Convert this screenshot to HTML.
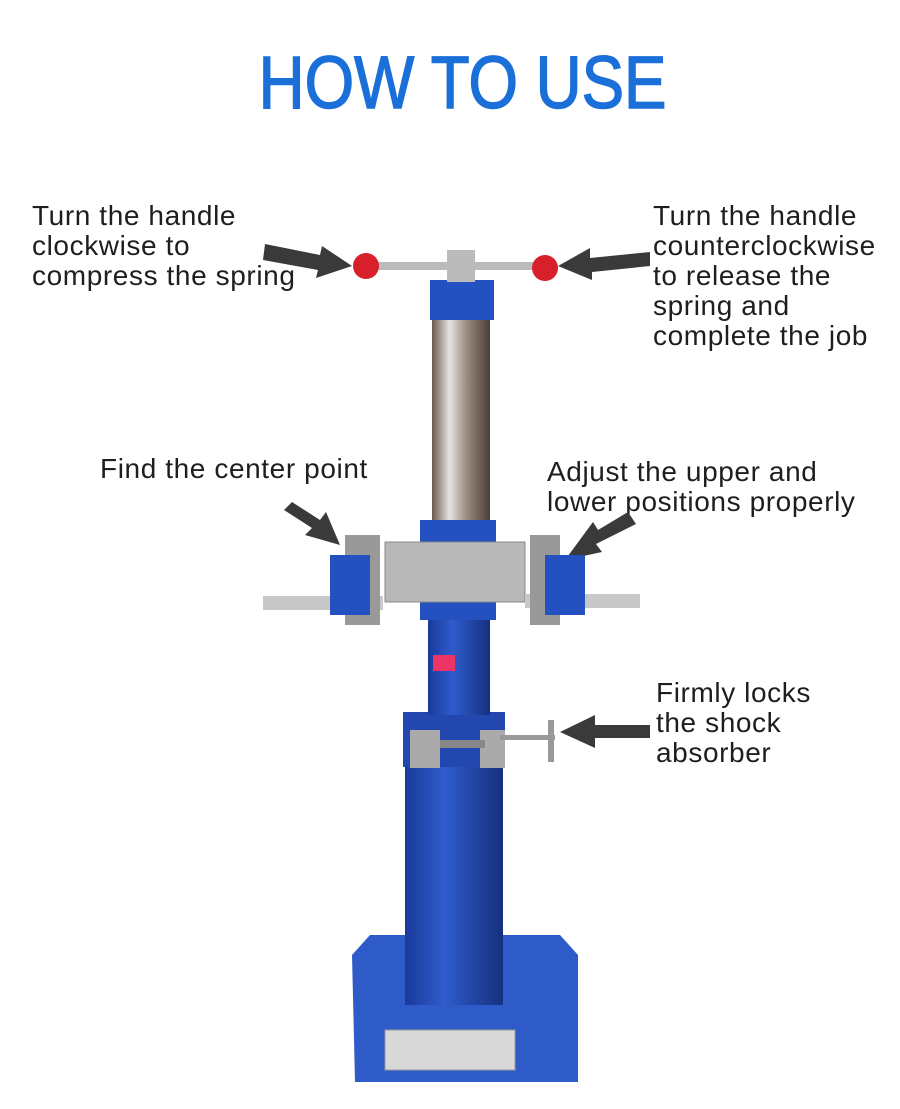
<!DOCTYPE html>
<html><head><meta charset="utf-8"><style>
body{margin:0;width:900px;height:1109px;background:#fff;position:relative;overflow:hidden;font-family:"Liberation Sans",sans-serif}
.t{position:absolute;font-size:28px;line-height:30px;color:#1e1e1e;letter-spacing:0.6px}
.a{position:absolute}
</style></head><body>
<div style="position:absolute;left:0;width:925px;top:40px;text-align:center;font-size:74px;color:#1a6fd8;-webkit-text-stroke:1.5px #1a6fd8;transform:scaleX(0.86);transform-origin:463px 0">HOW TO USE</div>

<div class="t" style="left:32px;top:201px">Turn the handle<br>clockwise to<br>compress the spring</div>
<div class="t" style="left:653px;top:201px">Turn the handle<br>counterclockwise<br>to release the<br>spring and<br>complete the job</div>
<div class="t" style="left:100px;top:454px">Find the center point</div>
<div class="t" style="left:547px;top:457px">Adjust the upper and<br>lower positions properly</div>
<div class="t" style="left:656px;top:678px">Firmly locks<br>the shock<br>absorber</div>

<svg class="a" width="900" height="1109" style="left:0;top:0">
<defs>
<linearGradient id="ch" x1="0" x2="1"><stop offset="0" stop-color="#6b5a50"/><stop offset=".3" stop-color="#e8e4e0"/><stop offset=".6" stop-color="#9a8a80"/><stop offset="1" stop-color="#4a3e38"/></linearGradient>
<linearGradient id="bl" x1="0" x2="1"><stop offset="0" stop-color="#1a3a9a"/><stop offset=".4" stop-color="#2f5ccc"/><stop offset="1" stop-color="#16307e"/></linearGradient>
</defs>
<g fill="#3a3a3a">
<polygon points="265,244 320,255 322,246 352,266 316,278 318,270 263,260"/>
<polygon points="650,252 590,258 590,248 558,266 592,280 592,272 650,266"/>
<polygon points="292,502 320,520 326,512 340,545 305,535 312,528 284,510"/>
<polygon points="628,512 598,530 593,522 565,560 602,552 596,544 636,524"/>
<polygon points="650,725 595,725 595,715 560,732 595,748 595,738 650,738"/>
</g>
<polygon points="370,935 560,935 578,955 578,1082 355,1082 352,955" fill="#2f5bc8"/>
<rect x="385" y="1030" width="130" height="40" fill="#d8d8d8" stroke="#999"/>
<rect x="405" y="765" width="98" height="240" fill="url(#bl)"/>
<rect x="403" y="712" width="102" height="55" fill="#2248b0"/>
<rect x="410" y="730" width="30" height="38" fill="#aaa"/>
<rect x="480" y="730" width="25" height="38" fill="#aaa"/>
<rect x="440" y="740" width="45" height="8" fill="#888"/>
<rect x="500" y="735" width="55" height="5" fill="#999"/>
<rect x="548" y="720" width="6" height="42" fill="#999"/>
<rect x="428" y="605" width="62" height="110" fill="url(#bl)"/>
<rect x="433" y="655" width="22" height="16" fill="#e36" />
<rect x="432" y="318" width="58" height="210" fill="url(#ch)"/>
<rect x="430" y="280" width="64" height="40" fill="#2450c0"/>
<rect x="447" y="250" width="28" height="32" fill="#bbb"/>
<rect x="365" y="262" width="180" height="8" fill="#bbb"/>
<circle cx="366" cy="266" r="13" fill="#d8202a"/>
<circle cx="545" cy="268" r="13" fill="#d8202a"/>
<rect x="420" y="520" width="76" height="100" fill="#2450c0"/>
<rect x="385" y="542" width="140" height="60" fill="#b8b8b8" stroke="#888"/>
<rect x="263" y="596" width="120" height="14" fill="#c8c8c8"/>
<rect x="525" y="594" width="115" height="14" fill="#c8c8c8"/>
<rect x="345" y="535" width="35" height="90" fill="#999"/>
<rect x="330" y="555" width="40" height="60" fill="#2450c0"/>
<rect x="530" y="535" width="30" height="90" fill="#999"/>
<rect x="545" y="555" width="40" height="60" fill="#2450c0"/>
</svg>
</body></html>
